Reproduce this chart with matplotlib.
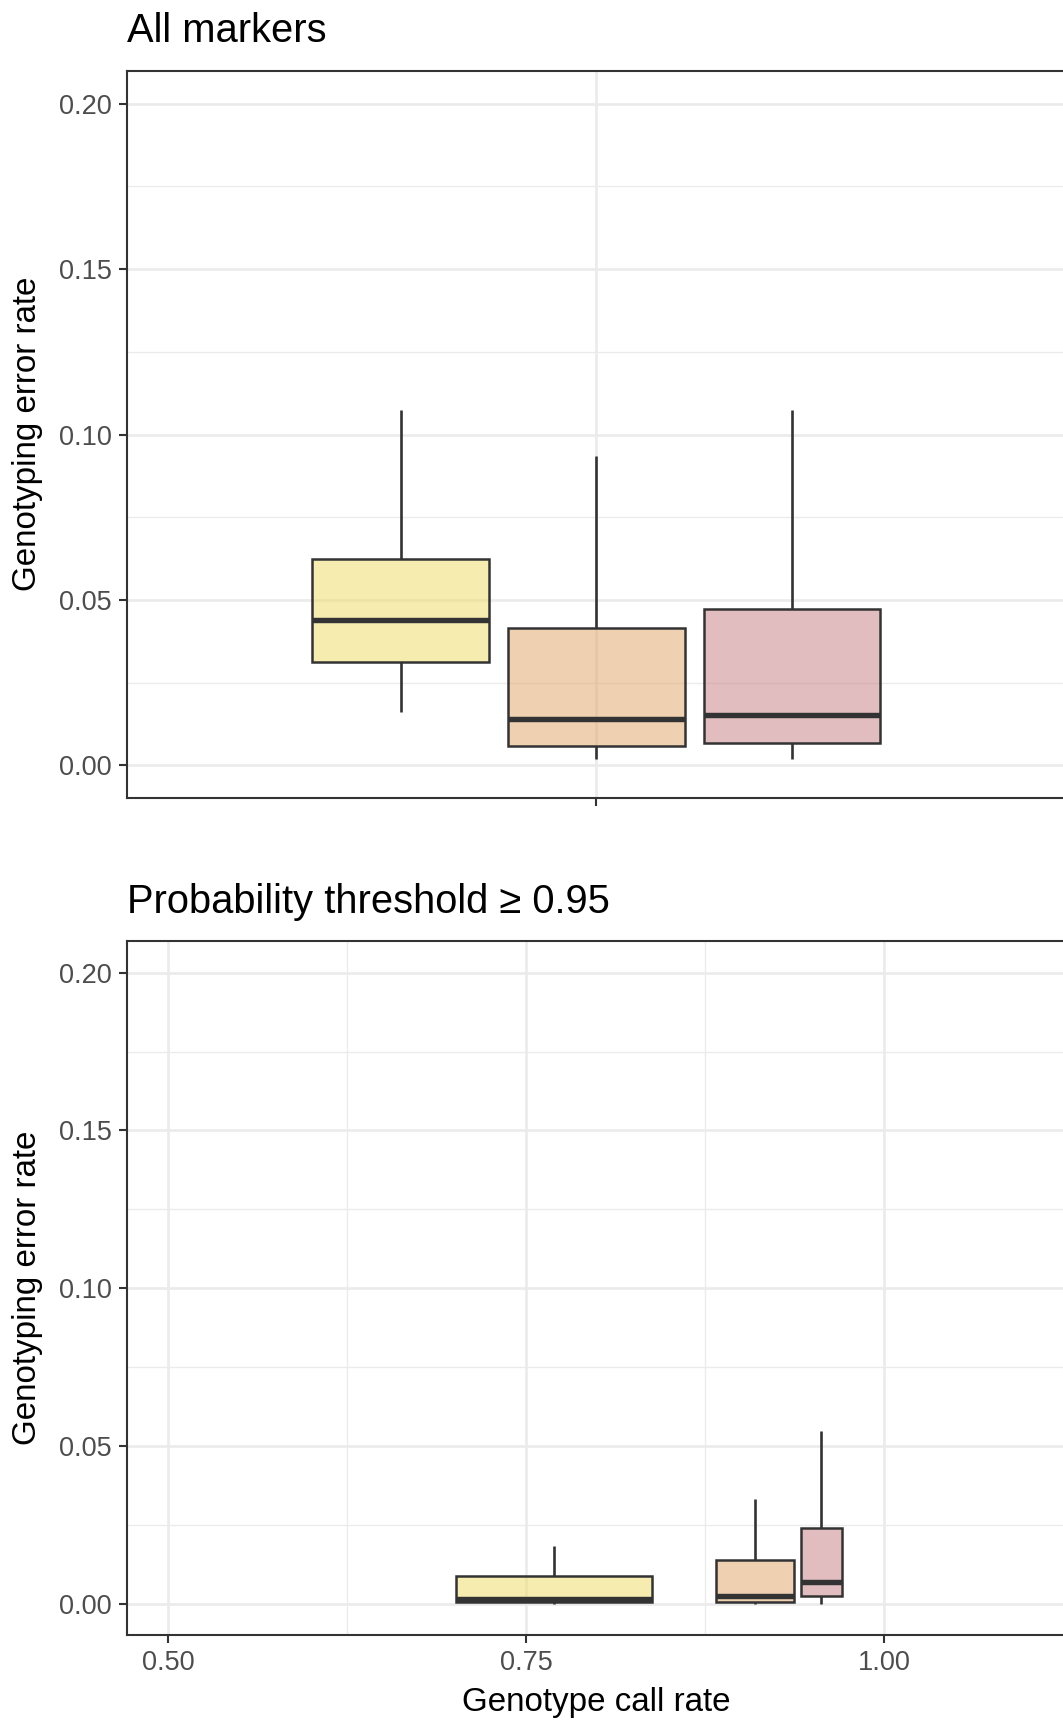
import matplotlib
matplotlib.use("Agg")
import matplotlib.pyplot as plt
from matplotlib.colors import to_rgba
from matplotlib.ticker import FixedLocator

plt.rcParams['font.family'] = ['Liberation Sans', 'DejaVu Sans']

# ---------------------------------------------
# Box statistics (error rate) per calling group
# ---------------------------------------------
fills = ['#EFDB61', '#E1A363', '#C57D81']

# All markers: one discrete position, dodged boxes
top_pos = [0.75, 1.00, 1.25]
top_width = 0.226
top_lo = [0.0162, 0.0018, 0.0018]
top_q1 = [0.0313, 0.0058, 0.0066]
top_med = [0.0439, 0.0141, 0.0151]
top_q3 = [0.0624, 0.0414, 0.0473]
top_hi = [0.1075, 0.0936, 0.1075]

# Probability threshold >= 0.95: boxes placed at the call rate
bot_pos = [0.7699, 0.9100, 0.9563]
bot_width = [0.137, 0.0545, 0.029]
bot_lo = [0.0, 0.0, 0.0]
bot_q1 = [0.0007, 0.0006, 0.0025]
bot_med = [0.0017, 0.0025, 0.0071]
bot_q3 = [0.0089, 0.0141, 0.0240]
bot_hi = [0.0185, 0.0332, 0.0547]

y_ticks = [0.00, 0.05, 0.10, 0.15, 0.20]
y_minor = [0.025, 0.075, 0.125, 0.175]
x_ticks = [0.50, 0.75, 1.00]
x_minor = [0.625, 0.875]

dark = '#333333'
grid_col = '#EBEBEB'
W, H = 1063, 1720


def make_stats(lo, q1, med, q3, hi):
    return [dict(whislo=a, q1=b, med=c, q3=d, whishi=e, fliers=[])
            for a, b, c, d, e in zip(lo, q1, med, q3, hi)]


def draw_boxes(ax, stats, pos, widths):
    bp = ax.bxp(stats, positions=pos, widths=widths, patch_artist=True,
                showfliers=False, showcaps=False, manage_ticks=False,
                boxprops=dict(edgecolor=dark, linewidth=1.8),
                whiskerprops=dict(color=dark, linewidth=1.9, solid_capstyle='butt'),
                medianprops=dict(color=dark, linewidth=3.9, solid_capstyle='butt'))
    for patch, col in zip(bp['boxes'], fills):
        patch.set_facecolor(to_rgba(col, 0.5))
        patch.set_zorder(3)
    for ln in bp['whiskers']:
        ln.set_zorder(2.5)
    for ln in bp['medians']:
        ln.set_zorder(4)


def style_axes(ax):
    ax.set_ylim(-0.0098, 0.21)
    ax.set_yticks(y_ticks)
    ax.set_yticklabels(['%.2f' % v for v in y_ticks])
    ax.yaxis.set_minor_locator(FixedLocator(y_minor))
    ax.grid(True, which='major', color=grid_col, linewidth=1.9, zorder=0)
    ax.grid(True, which='minor', color=grid_col, linewidth=0.95, zorder=0)
    ax.set_axisbelow(True)
    ax.tick_params(which='major', length=6, width=1.5, color=dark,
                   labelcolor='#4D4D4D', labelsize=19.5, pad=5)
    ax.tick_params(which='minor', length=0)
    for sp in ax.spines.values():
        sp.set_color(dark)
        sp.set_linewidth(1.5)
        sp.set_zorder(5)


fig = plt.figure(figsize=(W / 100, H / 100), dpi=100)

ax1 = fig.add_axes([126.7 / W, 1 - 797.7 / H, 939.2 / W, 727.0 / H])
ax2 = fig.add_axes([126.7 / W, 1 - 1635.0 / H, 939.2 / W, 694.0 / H])

# Top panel
draw_boxes(ax1, make_stats(top_lo, top_q1, top_med, top_q3, top_hi),
           top_pos, [top_width] * 3)
style_axes(ax1)
ax1.set_xlim(0.4, 1.6)
ax1.set_xticks([1.0])
ax1.set_xticklabels([''])

# Bottom panel
draw_boxes(ax2, make_stats(bot_lo, bot_q1, bot_med, bot_q3, bot_hi),
           bot_pos, bot_width)
style_axes(ax2)
ax2.set_xlim(0.4711, 1.1272)
ax2.set_xticks(x_ticks)
ax2.set_xticklabels(['%.2f' % v for v in x_ticks])
ax2.xaxis.set_minor_locator(FixedLocator(x_minor))

# Titles and axis labels
fig.text(127 / W, 1 - 42.3 / H, 'All markers', fontsize=28.7, va='baseline', ha='left')
fig.text(127 / W, 1 - 912.7 / H, 'Probability threshold \u2265 0.95', fontsize=28.7,
         va='baseline', ha='left')
fig.text(27.8 / W, 1 - 434 / H, 'Genotyping error rate', fontsize=23.9,
         rotation=90, ha='center', va='center')
fig.text(27.8 / W, 1 - 1288 / H, 'Genotyping error rate', fontsize=23.9,
         rotation=90, ha='center', va='center')
fig.text(596.6 / W, 1 - 1711 / H, 'Genotype call rate', fontsize=23.9,
         ha='center', va='baseline')

fig.savefig('out.png', dpi=100)
